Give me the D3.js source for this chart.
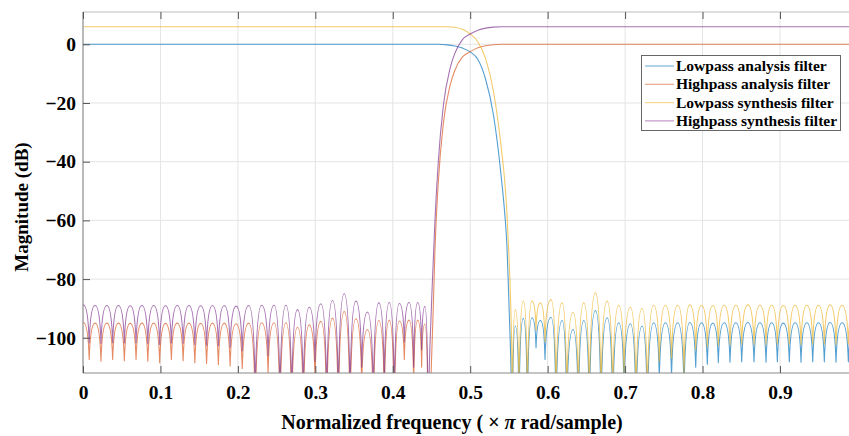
<!DOCTYPE html>
<html><head><meta charset="utf-8">
<script src="https://cdn.jsdelivr.net/npm/d3@7"></script>
<style>
body{margin:0;background:#fff}
svg{display:block}
text{font-family:"Liberation Serif","Times New Roman",serif;font-weight:bold;fill:#000}
</style>
</head><body>
<svg id="chart" width="849" height="436"></svg>
<script>
// ---------- tick labels ----------
const xTickValues = [0, 0.1, 0.2, 0.3, 0.4, 0.5, 0.6, 0.7, 0.8, 0.9];
const xTickLabels = ["0", "0.1", "0.2", "0.3", "0.4", "0.5", "0.6", "0.7", "0.8", "0.9"];
const yTickValues = [0, -20, -40, -60, -80, -100];
const yTickLabels = ["0", "\u221220", "\u221240", "\u221260", "\u221280", "\u2212100"];
const seriesNames = ["Lowpass analysis filter", "Highpass analysis filter", "Lowpass synthesis filter", "Highpass synthesis filter"];

// ---------- highpass filters: stopband (0 .. 0.45) lobes ----------
const hpDipF = [-0.0072, 0.0080, 0.0232, 0.0383, 0.0534, 0.0685, 0.0837, 0.0990, 0.1141, 0.1293, 0.1444, 0.1596, 0.1748, 0.1900, 0.2056, 0.2224, 0.2390, 0.2544, 0.2695, 0.2845, 0.2996, 0.3147, 0.3297, 0.3448, 0.3599, 0.3749, 0.3891, 0.4020, 0.4149, 0.4270, 0.4373, 0.4455];
const hpPeakF = [0.0004, 0.0156, 0.0307, 0.0458, 0.0610, 0.0761, 0.0913, 0.1065, 0.1217, 0.1368, 0.1520, 0.1672, 0.1824, 0.1978, 0.2140, 0.2307, 0.2467, 0.2620, 0.2770, 0.2921, 0.3072, 0.3222, 0.3373, 0.3524, 0.3674, 0.3820, 0.3955, 0.4085, 0.4210, 0.4322, 0.4414];
const hpSynPeakDB = [-88.8, -89.0, -89.0, -89.0, -89.1, -89.0, -89.0, -89.1, -89.0, -89.0, -89.1, -89.0, -89.0, -89.2, -89.0, -88.9, -88.9, -88.9, -90.4, -89.6, -88.4, -87.3, -85.0, -87.5, -91.2, -88.1, -88.0, -88.3, -88.0, -88.0, -89.3];
const hpSynDipDB = [-101.7, -101.7, -101.9, -101.7, -101.8, -101.7, -102.0, -102.3, -101.8, -101.9, -102.3, -102.5, -102.7, -103.2, -104.5, -118, -106, -120, -120, -118, -108, -120, -120, -120, -110, -120, -115, -120, -101.4, -110, -104, -125];
const hpAnaPeakDB = [-94.8, -95.0, -95.0, -95.0, -95.1, -95.0, -95.0, -95.1, -95.0, -95.0, -95.1, -95.0, -95.0, -95.2, -95.0, -94.9, -94.9, -94.9, -96.4, -95.6, -94.4, -93.3, -91.0, -93.5, -97.2, -94.1, -94.0, -94.3, -94.0, -94.0, -95.3];
const hpAnaDipDB = [-107.4, -107.4, -108.0, -107.4, -107.8, -107.4, -108.0, -108.5, -107.4, -107.8, -108.5, -108.8, -109.2, -109.6, -110.5, -124, -112, -126, -126, -124, -114, -126, -126, -126, -116, -126, -121, -126, -107.4, -116, -110, -131];

// ---------- highpass filters: transition + passband ----------
const hpAnaTransF = [0.4455, 0.4495, 0.4523, 0.4545, 0.4588, 0.4653, 0.4740, 0.4800, 0.4900, 0.5000, 0.5100, 0.5200, 0.5300, 0.5400, 1.0];
const hpAnaTransDB = [-131, -112, -90, -70, -47, -27, -14, -9, -4.3, -2.5, -1.2, -0.5, -0.15, 0, 0];
const hpSynTransF = [0.4455, 0.4480, 0.4510, 0.4545, 0.4588, 0.4653, 0.4740, 0.4800, 0.4900, 0.5000, 0.5100, 0.5200, 0.5300, 0.5400, 1.0];
const hpSynTransDB = [-125, -103, -82, -60, -40, -21, -8.2, -3.2, 1.6, 3.5, 4.8, 5.5, 5.85, 6, 6];

// ---------- lowpass filters: passband + transition ----------
const lpAnaTransF = [0, 0.46, 0.4700, 0.4800, 0.4900, 0.5000, 0.5100, 0.5200, 0.5300, 0.5400, 0.5450, 0.5475, 0.5500, 0.5520, 0.5545];
const lpAnaTransDB = [0, 0, -0.2, -0.6, -1.3, -2.6, -5.2, -12, -24, -45, -59, -69, -88, -104, -128];
const lpSynTransF = [0, 0.47, 0.4800, 0.4900, 0.5000, 0.5100, 0.5200, 0.5300, 0.5400, 0.5450, 0.5475, 0.5500, 0.5520, 0.5535, 0.5545];
const lpSynTransDB = [6, 6, 5.8, 5.1, 3.5, 0.8, -5, -16, -35, -48, -58, -72, -86, -102, -122];

// ---------- lowpass filters: stopband (0.55 .. 1) lobes ----------
const lpDipF = [0.5545, 0.5630, 0.5738, 0.5850, 0.5966, 0.6108, 0.6246, 0.6396, 0.6538, 0.6689, 0.6840, 0.6986, 0.7141, 0.7287, 0.7442, 0.7600, 0.7761, 0.7912, 0.8062, 0.8204, 0.8355, 0.8506, 0.8665, 0.8820, 0.8966, 0.9121, 0.9272, 0.9423, 0.9573, 0.9724, 0.9883, 1.0035];
const lpPeakF = [0.5583, 0.5686, 0.5798, 0.5906, 0.6044, 0.6186, 0.6328, 0.6466, 0.6617, 0.6768, 0.6918, 0.7069, 0.7219, 0.7370, 0.7521, 0.7680, 0.7836, 0.7987, 0.8133, 0.8280, 0.8430, 0.8585, 0.8742, 0.8893, 0.9043, 0.9196, 0.9347, 0.9498, 0.9648, 0.9803, 0.9960];
const lpSynPeakDB = [-90.4, -87.5, -87.5, -88.1, -87.0, -88.1, -91.2, -88.1, -84.7, -87.5, -88.9, -89.6, -90.0, -88.9, -88.9, -88.9, -88.8, -88.9, -89.0, -88.9, -88.9, -88.8, -88.9, -88.9, -89.0, -88.9, -88.9, -88.9, -88.8, -88.9, -88.9];
const lpSynDipDB = [-122, -120, -120, -97.4, -101.4, -120, -120, -120, -120, -120, -120, -112, -120, -120, -108, -107, -112, -104, -103, -102.5, -102.3, -102.2, -102.2, -102.3, -102.2, -102.2, -102.3, -102.2, -102.2, -102.3, -102.2, -102.2];
const lpAnaPeakDB = [-96.0, -93.4, -93.2, -94.1, -93.0, -94.1, -97.2, -94.1, -90.7, -93.2, -94.9, -95.2, -96.0, -94.9, -94.9, -94.9, -94.8, -94.9, -95.0, -94.9, -94.9, -94.8, -94.9, -94.9, -95.0, -94.9, -94.9, -94.9, -94.8, -94.9, -94.9];
const lpAnaDipDB = [-128, -126, -126, -103.4, -107.4, -126, -126, -126, -126, -126, -126, -118, -126, -126, -114, -113, -118, -110, -109, -108.5, -108.3, -108.2, -108.2, -108.3, -108.2, -108.2, -108.3, -108.2, -108.2, -108.3, -108.2, -108.2];

// ---------- layout ----------
const plot = {left: 83, top: 12, bottom: 373, right: 857.4};
const colors = ["#0072BD", "#D95319", "#EDB120", "#7E2F8E"];

const svg = d3.select("#chart");
const x = d3.scaleLinear().domain([0, 1]).range([plot.left, plot.right]);
const y = d3.scaleLinear().domain([-112, 11]).range([plot.bottom, plot.top]);

svg.append("defs").append("clipPath").attr("id", "clip")
  .append("rect").attr("x", plot.left).attr("y", plot.top)
  .attr("width", plot.right - plot.left).attr("height", plot.bottom - plot.top);

// grid
const grid = svg.append("g");
grid.selectAll("line.gx").data(xTickValues.slice(1)).join("line")
  .attr("x1", d => x(d)).attr("x2", d => x(d)).attr("y1", plot.top).attr("y2", plot.bottom)
  .attr("stroke", "#e4e4e4").attr("stroke-width", 1);
grid.selectAll("line.gy").data(yTickValues).join("line")
  .attr("x1", plot.left).attr("x2", plot.right).attr("y1", d => y(d)).attr("y2", d => y(d))
  .attr("stroke", "#e4e4e4").attr("stroke-width", 1);

// custom lobe curve: vertical tangent at nulls, horizontal tangent at peaks
function curveLobe(context) {
  let pts;
  return {
    areaStart() {}, areaEnd() {},
    lineStart() { pts = []; },
    point(px, py) { pts.push([+px, +py]); },
    lineEnd() {
      if (!pts.length) return;
      context.moveTo(pts[0][0], pts[0][1]);
      for (let i = 1; i < pts.length; i++) {
        const [x0, y0] = pts[i - 1], [x1, y1] = pts[i];
        const dx = x1 - x0, dy = y1 - y0;
        if (y1 < y0) {
          context.bezierCurveTo(x0 + dx * 0.12, y0 + dy * 0.6, x1 - dx * 0.55, y1, x1, y1);
        } else {
          context.bezierCurveTo(x0 + dx * 0.55, y0, x1 - dx * 0.12, y1 - dy * 0.6, x1, y1);
        }
      }
    }
  };
}

const lobeLine = d3.line().x(d => x(d[0])).y(d => y(d[1])).curve(curveLobe);
const smoothLine = d3.line().x(d => x(d[0])).y(d => y(d[1])).curve(d3.curveMonotoneX);

function interleave(dipF, dipDB, peakF, peakDB) {
  const out = [];
  for (let i = 0; i < dipF.length; i++) {
    out.push([dipF[i], dipDB[i]]);
    if (i < peakF.length) out.push([peakF[i], peakDB[i]]);
  }
  return out;
}
const zip = (a, b) => a.map((v, i) => [v, b[i]]);

const series = [
  {name: seriesNames[0], color: colors[0], smooth: zip(lpAnaTransF, lpAnaTransDB), lobes: interleave(lpDipF, lpAnaDipDB, lpPeakF, lpAnaPeakDB)},
  {name: seriesNames[1], color: colors[1], smooth: zip(hpAnaTransF, hpAnaTransDB), lobes: interleave(hpDipF, hpAnaDipDB, hpPeakF, hpAnaPeakDB)},
  {name: seriesNames[2], color: colors[2], smooth: zip(lpSynTransF, lpSynTransDB), lobes: interleave(lpDipF, lpSynDipDB, lpPeakF, lpSynPeakDB)},
  {name: seriesNames[3], color: colors[3], smooth: zip(hpSynTransF, hpSynTransDB), lobes: interleave(hpDipF, hpSynDipDB, hpPeakF, hpSynPeakDB)}
];

const lines = svg.append("g").attr("clip-path", "url(#clip)");
series.forEach(s => {
  lines.append("path")
    .attr("d", smoothLine(s.smooth) + lobeLine(s.lobes))
    .attr("fill", "none").attr("stroke", s.color).attr("stroke-width", 1.1)
    .attr("stroke-opacity", 0.68).attr("stroke-linejoin", "round");
});

// axes box
svg.append("line").attr("x1", plot.left).attr("x2", plot.left).attr("y1", plot.top).attr("y2", plot.bottom)
  .attr("stroke", "#8a8a8a").attr("stroke-width", 1.2);
svg.append("line").attr("x1", plot.left).attr("x2", plot.right).attr("y1", plot.bottom).attr("y2", plot.bottom)
  .attr("stroke", "#8a8a8a").attr("stroke-width", 1.2);
svg.append("line").attr("x1", plot.left).attr("x2", plot.right).attr("y1", plot.top).attr("y2", plot.top)
  .attr("stroke", "#bdbdbd").attr("stroke-width", 1.2);

// ticks via d3 axes (inner ticks)
const xAxis = d3.axisBottom(x).tickValues(xTickValues).tickFormat((d, i) => xTickLabels[i]).tickSizeInner(-7).tickSizeOuter(0).tickPadding(12);
const gx = svg.append("g").attr("transform", `translate(0,${plot.bottom})`).call(xAxis);
gx.select(".domain").remove();
gx.selectAll(".tick line").attr("stroke", "#555");
gx.selectAll(".tick text").attr("font-size", 19.5).attr("font-family", "Liberation Serif").attr("font-weight", "bold").attr("fill", "#000");

const xAxisTop = d3.axisTop(x).tickValues(xTickValues).tickFormat("").tickSizeInner(-7).tickSizeOuter(0);
const gxt = svg.append("g").attr("transform", `translate(0,${plot.top})`).call(xAxisTop);
gxt.select(".domain").remove();
gxt.selectAll(".tick line").attr("stroke", "#555");

const yAxis = d3.axisLeft(y).tickValues(yTickValues).tickFormat((d, i) => yTickLabels[i]).tickSizeInner(-7).tickSizeOuter(0).tickPadding(7);
const gy = svg.append("g").attr("transform", `translate(${plot.left},0)`).call(yAxis);
gy.select(".domain").remove();
gy.selectAll(".tick line").attr("stroke", "#555");
gy.selectAll(".tick text").attr("font-size", 19.5).attr("font-family", "Liberation Serif").attr("font-weight", "bold").attr("fill", "#000");

// axis labels
const xl = svg.append("text").attr("x", 452).attr("y", 429).attr("text-anchor", "middle").attr("font-size", 20);
xl.append("tspan").text("Normalized frequency ( \u00d7 ");
xl.append("tspan").attr("font-style", "italic").text("\u03c0");
xl.append("tspan").text(" rad/sample)");

svg.append("text").attr("transform", "translate(28,207) rotate(-90)").attr("text-anchor", "middle")
  .attr("font-size", 19).text("Magnitude (dB)");

// legend
const lg = svg.append("g");
lg.append("rect").attr("x", 641.5).attr("y", 55.5).attr("width", 199).attr("height", 75)
  .attr("fill", "#fff").attr("stroke", "#666").attr("stroke-width", 1);
series.forEach((s, i) => {
  const cy = 66 + i * 18.3;
  lg.append("line").attr("x1", 645).attr("x2", 674).attr("y1", cy).attr("y2", cy)
    .attr("stroke", s.color).attr("stroke-width", 1.1).attr("stroke-opacity", 0.55);
  lg.append("text").attr("x", 676).attr("y", cy + 5).attr("font-size", 15.5).text(s.name);
});
</script>
</body></html>
